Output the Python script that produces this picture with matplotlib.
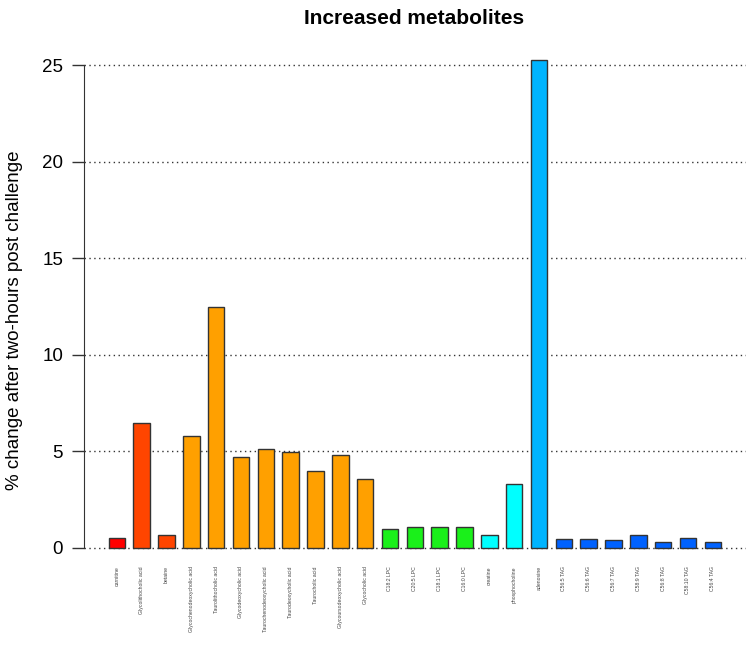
import numpy as np
import matplotlib.pyplot as plt

plt.rcParams['font.family'] = ['Liberation Sans', 'DejaVu Sans']

names = ['carnitine', 'Glycolithocholic acid', 'betaine', 'Glycochenodeoxycholic acid',
         'Taurolithocholic acid', 'Glycodeoxycholic acid', 'Taurochenodeoxycholic acid',
         'Taurodeoxycholic acid', 'Taurocholic acid', 'Glycoursodeoxycholic acid',
         'Glycocholic acid', 'C18:2 LPC', 'C20:5 LPC', 'C18:1 LPC', 'C16:0 LPC',
         'creatine', 'phosphocholine', 'adenosine', 'C56:5 TAG', 'C56:6 TAG',
         'C56:7 TAG', 'C58:9 TAG', 'C56:8 TAG', 'C58:10 TAG', 'C56:4 TAG']
values = [0.53, 6.48, 0.65, 5.8, 12.47, 4.73, 5.12, 4.95, 4.0, 4.83,
          3.57, 0.98, 1.07, 1.07, 1.07, 0.69, 3.31, 25.25, 0.48, 0.48,
          0.43, 0.67, 0.31, 0.53, 0.31]
groups = ['red', 'orangered', 'orangered'] + ['orange'] * 8 + ['green'] * 4 + \
         ['cyan', 'cyan', 'sky'] + ['blue'] * 7
palette = {'red': '#FF0000', 'orangered': '#FF4500', 'orange': '#FFA000',
           'green': '#1AF01A', 'cyan': '#00FFFF', 'sky': '#00B4FF', 'blue': '#0062FF'}

fig = plt.figure(figsize=(7.5, 6.48), dpi=100)
ax = fig.add_axes([84 / 750, 80.5 / 648, (745.6 - 84) / 750, (567.5 - 40.7) / 648])

x = 1.0 + 1.5 * np.arange(len(values))
ax.set_axisbelow(True)
for yv in range(0, 30, 5):
    ax.axhline(yv, color='#333333', lw=1, ls=(0, (1, 2.5)), zorder=0)
ax.bar(x, values, width=1.0, color=[palette[g] for g in groups],
       edgecolor='#333333', linewidth=1, zorder=2)

xmin, xmax = 0.5, x[-1] + 0.5
pad = (xmax - xmin) * 0.04
ax.set_xlim(xmin - pad, xmax + pad)
ax.set_ylim(-1.01, 26.26)

for s in ['top', 'right', 'bottom']:
    ax.spines[s].set_visible(False)
ax.spines['left'].set_bounds(0, 25)
ax.spines['left'].set_color('#333333')
ax.set_yticks(range(0, 30, 5))
ax.tick_params(axis='y', length=9, width=1, color='#333333', labelsize=13.5, pad=6)
ax.set_xticks(x)
ax.set_xticklabels(names, rotation=90, fontsize=3.7, va='top', color='#444444')
ax.tick_params(axis='x', length=0, pad=-1)

ax.set_ylabel('% change after two-hours post challenge', fontsize=13.5)
ax.yaxis.set_label_coords(-0.092, 0.47)
fig.text(0.552, 1 - 19 / 648, 'Increased metabolites', ha='center', va='center',
         fontsize=15, fontweight='bold')

fig.savefig('out.png', dpi=100)
